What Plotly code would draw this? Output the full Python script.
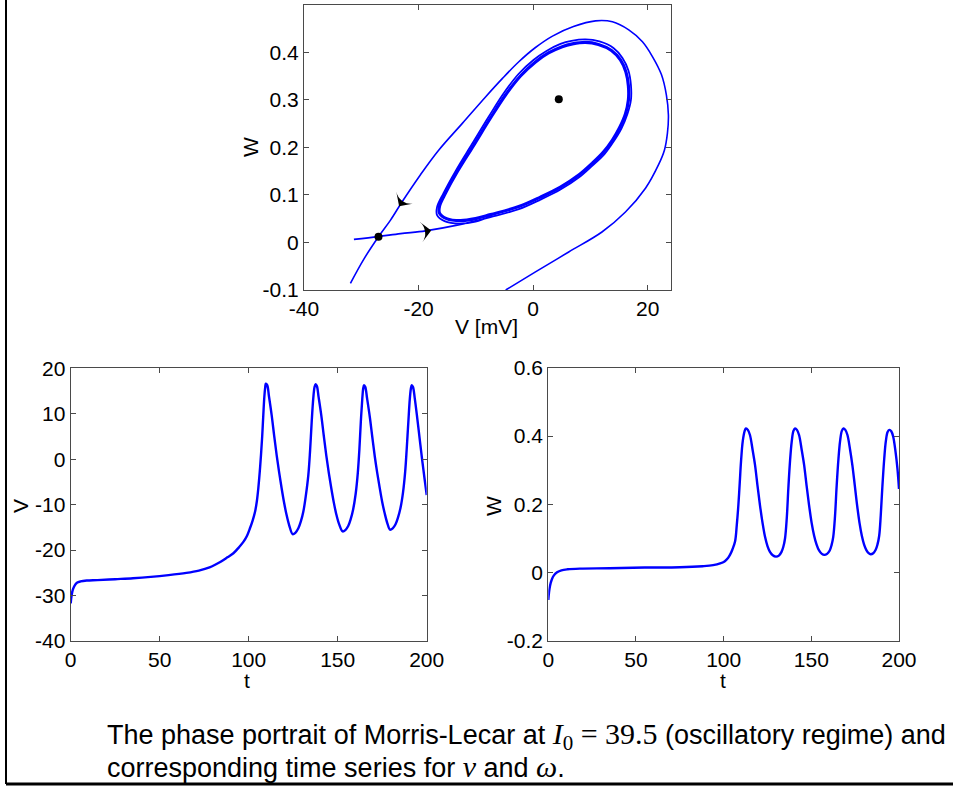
import plotly.graph_objects as go

# ---------------- data ----------------
# Phase portrait: stable manifold of the saddle (outer curve)
sm_v = [-4.8, 0.4, 6.2, 12.0, 16.1, 19.6, 21.86, 22.9, 23.43, 23.6, 23.25, 22.38, 20.81, 19.07, 16.68, 13.83,
        10.87, 7.03, 3.37, 0.40, -2.51, -5.36, -8.32, -12.33, -16.5, -19.7, -22.9, -24.9, -27.0, -29.5, -31.9]
sm_w = [-0.100, -0.062, -0.020, 0.022, 0.064, 0.114, 0.163, 0.194, 0.230, 0.268, 0.310, 0.353, 0.391, 0.422,
        0.447, 0.464, 0.466, 0.454, 0.434, 0.410, 0.380, 0.345, 0.306, 0.251, 0.194, 0.142, 0.085, 0.047,
        0.012, -0.034, -0.086]

# Unstable manifold: from the saddle, spiralling onto the limit cycle
um_v = [-31.29, -27.04, -23.15, -18.79, -13.26, -7.45, -2.51, 1.27, 4.76, 7.95, 10.34, 12.44, 14.09, 15.40,
        16.45, 17.06, 17.06, 16.62, 15.58, 14.01, 11.56, 9.12, 6.68, 4.76, 2.32, 0.05, -2.56, -5.18, -7.80,
        -10.68, -13.55, -15.65, -16.78, -16.78, -15.47, -12.86, -10.06, -7.45]
um_w = [0.0063, 0.0122, 0.0185, 0.0244, 0.0364, 0.0533, 0.0701, 0.0901, 0.1112, 0.1364, 0.1617, 0.1859, 0.2133,
        0.2396, 0.2701, 0.2996, 0.3312, 0.3617, 0.3880, 0.4091, 0.4227, 0.4269, 0.4238, 0.4175, 0.4027, 0.3838,
        0.3543, 0.3133, 0.2638, 0.2069, 0.1501, 0.1038, 0.0743, 0.0575, 0.0448, 0.0396, 0.0438, 0.0554]

# Limit cycle (closed)
lc_v = [-7.45, -2.51, 1.27, 4.76, 7.95, 10.34, 12.26, 13.83, 15.05, 16.10, 16.62, 16.62, 16.19, 15.23, 13.66,
        11.39, 9.12, 6.86, 5.06, 2.67, 0.40, -2.22, -4.83, -7.45, -10.36, -13.26, -15.30, -16.35, -16.35,
        -15.12, -12.68, -10.06, -7.45]
lc_w = [0.0585, 0.0754, 0.0954, 0.1164, 0.1417, 0.1669, 0.1901, 0.2154, 0.2406, 0.2701, 0.2996, 0.3291, 0.3585,
        0.3838, 0.4038, 0.4164, 0.4206, 0.4175, 0.4118, 0.3985, 0.3796, 0.3501, 0.3101, 0.2617, 0.2048, 0.1486,
        0.1038, 0.0764, 0.0617, 0.0501, 0.0459, 0.0501, 0.0585]

# Equilibria
eq_v = [-27.0, 4.47]
eq_w = [0.012, 0.301]

# Direction arrows (tip position and heading in degrees, clockwise from up)
arrow_v = [-23.4, -17.8]
arrow_w = [0.076, 0.025]
arrow_angle = [214, 82]

# Time series V(t)
ts_t = [0, 0.5, 1.2, 2.2, 3.5, 5.5, 9, 15, 25, 35, 45, 55, 65, 72, 78, 84, 88, 91.4, 94.5, 97, 99,
        100.7, 102.2, 103.6, 104.6, 105.4, 106.2, 106.9, 107.6, 108.2, 108.8, 109.3, 109.6,
        110.4, 111.4, 112.9, 114.3, 115.7, 117.1, 118.5, 119.9, 121.3, 122.8, 124.7,
        126.2, 127.9, 129.3, 130.7, 132.1, 133.5, 134.5, 135.4, 136.3, 137.0, 137.6,
        138.3, 139.3, 140.8, 142.2, 143.6, 145.0, 146.4, 147.8, 149.2, 150.8, 152.8,
        154.3, 155.9, 157.3, 158.7, 160.1, 161.3, 162.2, 163.0, 163.8, 164.3, 164.8,
        165.5, 166.5, 168.0, 169.4, 170.8, 172.2, 173.6, 175.0, 176.4, 177.9, 179.4,
        180.9, 182.5, 183.9, 185.3, 186.7, 187.9, 188.8, 189.7, 190.5, 191.1, 191.6,
        192.3, 193.3, 194.7, 196.1, 197.5, 198.8, 200]
ts_v = [-31.7, -30.0, -28.7, -27.8, -27.2, -26.9, -26.7, -26.6, -26.4, -26.2, -25.9, -25.5, -25.0, -24.5, -23.8,
        -22.6, -21.6, -20.7, -19.4, -18.2, -16.9,
        -15.2, -13.5, -11.5, -9.2, -6.4, -2.8, 0.9, 5.2, 9.7, 13.8, 15.9, 16.6,
        16.3, 13.8, 9.7, 5.2, 0.9, -2.9, -6.4, -9.6, -12.3, -14.6, -16.5,
        -16.2, -15.2, -13.7, -11.5, -8.0, -3.5, 2.0, 8.3, 13.5, 15.9, 16.5,
        16.1, 13.6, 9.6, 5.1, 0.8, -3.0, -6.4, -9.5, -12.1, -14.3, -15.9,
        -15.6, -14.7, -13.2, -11.0, -7.6, -3.0, 2.3, 8.3, 13.2, 15.5, 16.3,
        15.9, 13.4, 9.4, 5.0, 0.7, -3.0, -6.3, -9.4, -11.9, -14.1, -15.5,
        -15.2, -14.3, -12.8, -10.7, -7.3, -2.8, 2.4, 8.3, 13.2, 15.5, 16.3,
        15.9, 13.4, 9.0, 4.3, -0.3, -4.3, -7.9]

# Time series W(t)
tw_t = [0, 0.4, 1.0, 2.0, 3.2, 5.0, 7.5, 11, 18, 35, 55, 75, 88, 94, 98, 100.5, 102.5, 103.6, 105.0,
        106.5, 107.5, 108.4, 109.2, 109.9, 110.9, 112.0, 112.7,
        113.8, 115.0, 116.5, 117.9, 119.3, 120.7, 122.2, 123.6, 125.0, 126.4, 128.0, 129.8,
        131.5, 133.0, 134.0, 135.0, 136.0, 136.9, 137.9, 138.8, 139.8, 140.7,
        141.8, 143.0, 144.5, 145.9, 147.3, 148.7, 150.2, 151.6, 153.0, 154.4, 156.0, 157.4,
        159.0, 160.5, 161.5, 162.5, 163.5, 164.4, 165.5, 166.4, 167.4, 168.3,
        169.4, 170.6, 172.1, 173.4, 174.8, 176.1, 177.5, 178.8, 180.1, 181.4, 182.7, 183.8,
        185.3, 186.7, 187.7, 188.7, 189.6, 190.5, 191.6, 192.5, 193.5, 194.5,
        195.6, 196.7, 198.0, 199.1, 200]
tw_w = [-0.080, -0.058, -0.038, -0.020, -0.008, 0.001, 0.007, 0.010, 0.012, 0.013, 0.015, 0.016, 0.019, 0.022, 0.027,
        0.033, 0.043, 0.052, 0.068,
        0.091, 0.140, 0.198, 0.265, 0.325, 0.385, 0.415, 0.422,
        0.418, 0.403, 0.360, 0.315, 0.255, 0.198, 0.145, 0.105, 0.078, 0.061, 0.051, 0.047,
        0.050, 0.061, 0.075, 0.100, 0.160, 0.247, 0.330, 0.383, 0.415, 0.422,
        0.418, 0.403, 0.360, 0.315, 0.255, 0.198, 0.145, 0.108, 0.082, 0.065, 0.055, 0.052,
        0.055, 0.065, 0.080, 0.105, 0.165, 0.250, 0.335, 0.385, 0.415, 0.422,
        0.418, 0.403, 0.360, 0.315, 0.255, 0.198, 0.145, 0.108, 0.082, 0.066, 0.057, 0.054,
        0.057, 0.067, 0.082, 0.108, 0.168, 0.250, 0.335, 0.385, 0.412, 0.418,
        0.414, 0.398, 0.355, 0.305, 0.245]

# Tick labels
pp_xticks = [-40, -20, 0, 20]
pp_xticktext = ["-40", "-20", "0", "20"]
pp_yticks = [-0.1, 0, 0.1, 0.2, 0.3, 0.4]
pp_yticktext = ["-0.1", "0", "0.1", "0.2", "0.3", "0.4"]
t_ticks = [0, 50, 100, 150, 200]
t_ticktext = ["0", "50", "100", "150", "200"]
v_ticks = [-40, -30, -20, -10, 0, 10, 20]
v_ticktext = ["-40", "-30", "-20", "-10", "0", "10", "20"]
w_ticks = [-0.2, 0, 0.2, 0.4, 0.6]
w_ticktext = ["-0.2", "0", "0.2", "0.4", "0.6"]

# ---------------- figure ----------------
W_PX, H_PX = 953, 786
BLUE = "#0000ff"
AXC = "#4a4a4a"
FONT = "Liberation Sans, Arial, Helvetica, sans-serif"


def px_x(p):
    return p / W_PX


def px_y(p):
    return 1 - p / H_PX


fig = go.Figure()

fig.add_trace(go.Scatter(x=sm_v, y=sm_w, mode="lines", line=dict(color=BLUE, width=1.6, shape="spline", smoothing=1),
                         xaxis="x", yaxis="y", hoverinfo="skip"))
fig.add_trace(go.Scatter(x=um_v, y=um_w, mode="lines", line=dict(color=BLUE, width=1.8, shape="spline", smoothing=1),
                         xaxis="x", yaxis="y", hoverinfo="skip"))
fig.add_trace(go.Scatter(x=lc_v, y=lc_w, mode="lines", line=dict(color=BLUE, width=3.2, shape="spline", smoothing=1),
                         xaxis="x", yaxis="y", hoverinfo="skip"))
fig.add_trace(go.Scatter(x=eq_v, y=eq_w, mode="markers", marker=dict(color="black", size=8),
                         xaxis="x", yaxis="y", hoverinfo="skip"))
fig.add_trace(go.Scatter(x=arrow_v, y=arrow_w, mode="markers",
                         marker=dict(symbol="arrow-wide", color="black", size=15, angle=arrow_angle,
                                     line=dict(width=0)),
                         xaxis="x", yaxis="y", hoverinfo="skip"))

fig.add_trace(go.Scatter(x=ts_t, y=ts_v, mode="lines", line=dict(color=BLUE, width=2.4, shape="spline"),
                         xaxis="x2", yaxis="y2", hoverinfo="skip"))
fig.add_trace(go.Scatter(x=tw_t, y=tw_w, mode="lines", line=dict(color=BLUE, width=2.4, shape="spline"),
                         xaxis="x3", yaxis="y3", hoverinfo="skip"))

axis_common = dict(showgrid=False, zeroline=False, showline=True, linecolor=AXC, linewidth=1.2,
                   mirror="ticks", ticks="inside", ticklen=5, tickcolor=AXC, tickwidth=1,
                   automargin=False,
                   tickfont=dict(family=FONT, size=21, color="black"))

fig.update_layout(
    width=W_PX, height=H_PX,
    margin=dict(l=0, r=0, t=0, b=0, pad=0, autoexpand=False),
    paper_bgcolor="white", plot_bgcolor="white",
    showlegend=False,
    xaxis=dict(domain=[px_x(304), px_x(670.7)], range=[-40, 24], tickvals=pp_xticks, ticktext=pp_xticktext,
               anchor="y", **axis_common),
    yaxis=dict(domain=[px_y(290), px_y(4.7)], range=[-0.1, 0.5], tickvals=pp_yticks,
               ticktext=pp_yticktext, anchor="x", **axis_common),
    xaxis2=dict(domain=[px_x(70.7), px_x(426.7)], range=[0, 200], tickvals=t_ticks, ticktext=t_ticktext,
                anchor="y2", **axis_common),
    yaxis2=dict(domain=[px_y(641), px_y(368.3)], range=[-40, 20], tickvals=v_ticks, ticktext=v_ticktext,
                anchor="x2", **axis_common),
    xaxis3=dict(domain=[px_x(548.3), px_x(899)], range=[0, 200], tickvals=t_ticks, ticktext=t_ticktext,
                anchor="y3", **axis_common),
    yaxis3=dict(domain=[px_y(641), px_y(367.7)], range=[-0.2, 0.6], tickvals=w_ticks,
                ticktext=w_ticktext, anchor="x3", **axis_common),
)

lab_font = dict(family=FONT, size=21, color="black")
labels = [
    ("W", 250, 147, -90),
    ("V [mV]", 487, 326, 0),
    ("V", 20, 506, -90),
    ("t", 247, 680, 0),
    ("W", 493, 506, -90),
    ("t", 723, 680, 0),
]
for txt, x, y, ang in labels:
    fig.add_annotation(text=txt, x=px_x(x), y=px_y(y), xref="paper", yref="paper",
                       showarrow=False, textangle=ang, font=lab_font,
                       xanchor="center", yanchor="middle")

cap_font = dict(family="Liberation Sans, Arial, sans-serif", size=27, color="black")
serif = "font-family:'Liberation Serif', 'DejaVu Serif', serif;font-size:30px"
line1 = ("The phase portrait of Morris-Lecar at "
         f"<span style=\"{serif}\"><i>I</i><sub>0</sub> = 39.5</span> (oscillatory regime) and")
line2 = (f"corresponding time series for <span style=\"{serif}\"><i>v</i></span> and "
         f"<span style=\"{serif}\"><i>ω</i></span>.")
fig.add_annotation(text=line1, x=px_x(105), y=px_y(736), xref="paper", yref="paper",
                   showarrow=False, font=cap_font, xanchor="left", yanchor="middle", align="left")
fig.add_annotation(text=line2, x=px_x(105), y=px_y(766), xref="paper", yref="paper",
                   showarrow=False, font=cap_font, xanchor="left", yanchor="middle", align="left")

# page frame lines (left rule and bottom rule)
fig.add_shape(type="line", xref="paper", yref="paper", x0=px_x(6), x1=px_x(6), y0=px_y(0), y1=px_y(784),
              line=dict(color="black", width=2))
fig.add_shape(type="line", xref="paper", yref="paper", x0=px_x(6), x1=1, y0=px_y(784), y1=px_y(784),
              line=dict(color="black", width=3))

fig.write_html("out.html")
